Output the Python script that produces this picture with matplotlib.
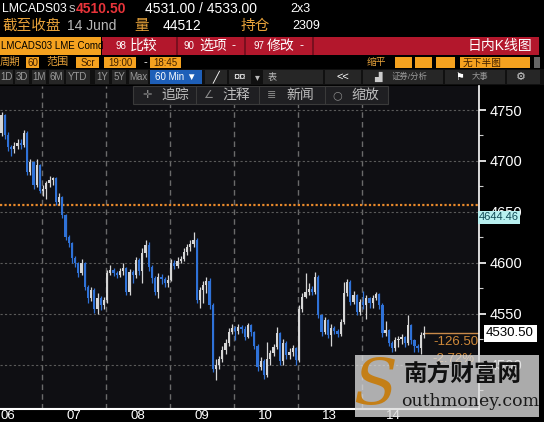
import matplotlib
matplotlib.use('Agg')
import matplotlib.pyplot as plt
import numpy as np
from matplotlib.patches import Rectangle

plt.rcParams['font.family'] = ['Liberation Sans', 'Noto Sans CJK SC', 'DejaVu Sans']

# Datos: velas de 60 minutos (cierre, máximo, mínimo), apertura = cierre anterior
first_open = 4727.0
closes = [
    # 06
    4745, 4725, 4714, 4712, 4715, 4718, 4716, 4727, 4689, 4699, 4676, 4696, 4670,
    # 07
    4672, 4678, 4681, 4683, 4660, 4665, 4647, 4625, 4619, 4605, 4600, 4590, 4600, 4576, 4565, 4573, 4555, 4565, 4558, 4563,
    # 08
    4590, 4593, 4590, 4588, 4592, 4595, 4571, 4591, 4588, 4603, 4592, 4610, 4617, 4596, 4585, 4571, 4586, 4584, 4580, 4583,
    # 09
    4600, 4597, 4602, 4604, 4611, 4615, 4618, 4622, 4563, 4573, 4578, 4582, 4558, 4496, 4500, 4505, 4514, 4521, 4532, 4536,
    # 10
    4533, 4537, 4535, 4527, 4539, 4532, 4518, 4498, 4503, 4490, 4505, 4511, 4517, 4531, 4503, 4521, 4509, 4512, 4516, 4504,
    # 13
    4555, 4566, 4571, 4574, 4571, 4586, 4549, 4532, 4544, 4529, 4536, 4533, 4530, 4542, 4570, 4581, 4561, 4568, 4552, 4561,
    # 14
    4558, 4565, 4560, 4565, 4569, 4558, 4531, 4534, 4521, 4516, 4524, 4525, 4527, 4521, 4539, 4524, 4518, 4516, 4529, 4530.5,
]
highs = [
    4748, 4746, 4728, 4716, 4719, 4722, 4722, 4730, 4729, 4702, 4700, 4702, 4697,
    4676, 4680, 4685, 4684, 4684, 4668, 4666, 4648, 4627, 4620, 4607, 4601, 4604, 4601, 4578, 4576, 4575, 4570, 4567, 4566,
    4593, 4598, 4595, 4592, 4595, 4600, 4596, 4594, 4593, 4606, 4605, 4614, 4622, 4620, 4598, 4587, 4590, 4589, 4586, 4588,
    4604, 4603, 4606, 4607, 4614, 4618, 4622, 4630, 4624, 4576, 4582, 4586, 4585, 4560, 4505, 4508, 4518, 4525, 4536, 4540,
    4538, 4540, 4539, 4538, 4541, 4540, 4533, 4520, 4507, 4505, 4522, 4514, 4520, 4537, 4532, 4525, 4523, 4516, 4519, 4517,
    4558, 4570, 4590, 4580, 4577, 4591, 4588, 4550, 4547, 4545, 4540, 4538, 4535, 4545, 4581, 4584, 4583, 4572, 4569, 4564,
    4572, 4568, 4566, 4568, 4571, 4570, 4560, 4543, 4535, 4523, 4527, 4528, 4530, 4528, 4549, 4540, 4525, 4520, 4532, 4538,
]
lows = [
    4724, 4722, 4710, 4705, 4708, 4712, 4712, 4714, 4686, 4686, 4672, 4674, 4668,
    4666, 4663, 4674, 4676, 4657, 4657, 4644, 4622, 4615, 4600, 4596, 4586, 4588, 4573, 4560, 4562, 4551, 4550, 4554, 4555,
    4560, 4588, 4587, 4585, 4586, 4588, 4568, 4568, 4580, 4585, 4588, 4580, 4606, 4592, 4580, 4568, 4565, 4579, 4576, 4576,
    4582, 4594, 4595, 4600, 4602, 4608, 4612, 4615, 4560, 4556, 4560, 4570, 4555, 4493, 4485, 4496, 4502, 4510, 4518, 4530,
    4524, 4530, 4531, 4524, 4526, 4528, 4515, 4494, 4495, 4486, 4488, 4500, 4508, 4515, 4500, 4500, 4505, 4505, 4508, 4500,
    4502, 4552, 4565, 4568, 4568, 4569, 4546, 4528, 4530, 4526, 4518, 4530, 4527, 4528, 4540, 4567, 4558, 4559, 4549, 4549,
    4555, 4545, 4556, 4556, 4563, 4555, 4527, 4528, 4518, 4512, 4513, 4517, 4520, 4517, 4519, 4520, 4512, 4512, 4510, 4526,
]
day_labels = ['06', '07', '08', '09', '10', '13', '14']
bars_per_day = [13, 20, 20, 20, 20, 20, 20]
ref_level = 4657.0      # línea punteada naranja (cierre de referencia)
ma_value = 4644.46      # etiqueta cian
last_price = 4530.50
y_ticks = [4500, 4550, 4600, 4650, 4700, 4750]

W, H = 544, 422
fig = plt.figure(figsize=(W / 100, H / 100), dpi=100, facecolor='black')

def fx(x):
    return x / W

def fy(y):
    return 1 - y / H

def caja(x, y, w, h, color, **kw):
    fig.add_artist(Rectangle((fx(x), fy(y + h)), w / W, h / H, transform=fig.transFigure,
                             facecolor=color, edgecolor=kw.pop('ec', 'none'), **kw))

def texto(x, y, s, color, size, **kw):
    kw.setdefault('va', 'center')
    fig.text(fx(x), fy(y), s, color=color, fontsize=size, **kw)

# ---- Gráfico principal ----
ax = fig.add_axes([0, fy(409), fx(479), (409 - 86) / H])
ax.set_facecolor('#0f0f13')

c = np.array(closes, dtype=float)
o = np.array([first_open] + closes[:-1], dtype=float)
hi = np.maximum(np.array(highs, dtype=float), np.maximum(o, c))
lo = np.minimum(np.array(lows, dtype=float), np.minimum(o, c))
idx = np.arange(len(c))
sube = c >= o
azul = '#2f72d8'
blanco = '#d6d6d6'
colores = np.where(sube, blanco, azul)

ax.vlines(idx, lo, hi, colors=colores, lw=0.9, zorder=3)
alto = np.maximum(np.abs(c - o), 1.0)
ax.bar(idx, alto, bottom=np.minimum(o, c), width=0.72, color=colores, zorder=4, linewidth=0)

# Cuadrícula
limites = np.cumsum(bars_per_day)[:-1] - 0.5
for b in limites:
    ax.axvline(b, color='#6a6a6a', lw=1.0, ls=(0, (4, 3)), zorder=1)
for t in y_ticks:
    ax.axhline(t, color='#5a5a5a', lw=0.8, ls=(0, (2, 2)), zorder=1)

ax.axhline(ref_level, color='#e8892b', lw=1.6, ls=(0, (1, 1)), zorder=2)
ax.plot([idx[-1], 149.2], [last_price, last_price], color='#c98a4a', lw=1.0, zorder=2)

ax.set_xlim(-0.47, 149.2)
ax.set_ylim(4456.3, 4773.6)

ax.yaxis.tick_right()
ax.set_yticks(y_ticks)
ax.set_yticks(np.arange(4475, 4775, 50), minor=True)
ax.tick_params(axis='y', which='major', colors='white', length=5, width=1.2, labelsize=10.5, pad=3)
ax.tick_params(axis='y', which='minor', colors='#cccccc', length=3, width=0.8)
ax.set_xticks([])
for s in ['top', 'left']:
    ax.spines[s].set_visible(False)
ax.spines['right'].set_color('white')
ax.spines['bottom'].set_color('white')
ax.spines['right'].set_linewidth(1.2)
ax.spines['bottom'].set_linewidth(1.5)

# Etiquetas de días
inicio = 0
for lab, n in zip(day_labels, bars_per_day):
    centro = inicio + n / 2 - 0.5 if lab != '06' else 2
    texto((centro + 0.47) * 479 / 149.67, 416, lab, 'white', 9.5, ha='center')
    inicio += n

# Etiquetas del eje derecho
ax.text(1.0, ma_value, f'{ma_value:.2f}', transform=ax.get_yaxis_transform(), ha='left', va='center',
        fontsize=8, color='#0f4a55', bbox=dict(boxstyle='square,pad=0.1', fc='#b8f0f0', ec='none'),
        clip_on=False, zorder=10)
ax.text(1.015, last_price, f'{last_price:.2f}', transform=ax.get_yaxis_transform(), ha='left', va='center',
        fontsize=9.5, color='black', bbox=dict(boxstyle='square,pad=0.2', fc='white', ec='none'),
        clip_on=False, zorder=10)
ax.text(0.998, last_price - 8.5, f'{last_price - ref_level:.2f}', transform=ax.get_yaxis_transform(),
        ha='right', va='center', fontsize=9.5, color='#d08a3a', zorder=10)
ax.text(0.99, last_price - 25, f'{(last_price - ref_level) / ref_level * 100:.2f}%',
        transform=ax.get_yaxis_transform(), ha='right', va='center', fontsize=9.5, color='#d08a3a', zorder=10)

# ---- Cabecera ----
texto(2, 9, 'LMCADS03', 'white', 8.8)
texto(69, 9, 's', '#c0c0c0', 9.5)
texto(76, 9, '4510.50', '#e8343a', 10, fontweight='bold')
texto(145, 9, '4531.00 / 4533.00', 'white', 10)
texto(290, 9, '2x3', 'white', 9)

texto(2, 26, '截至收盘', '#e7a23a', 10.5)
texto(67, 26, '14 Jund', '#b8b8b8', 10)
texto(134, 26, '量', '#e7a23a', 10.5)
texto(163, 26, '44512', 'white', 10)
texto(241, 26, '持仓', '#e7a23a', 10.5)
texto(292, 26, '2309', 'white', 9)

caja(0, 37, 101, 18, '#f5a21f')
texto(1, 46, 'LMCADS03 LME Comd', 'black', 7)
caja(102, 37, 437, 18, '#b3172c')
for xd in [176, 244, 312]:
    caja(xd, 37, 1.5, 18, '#7a0f1e')
texto(115, 46, '98', 'white', 7)
texto(130, 46, '比较', 'white', 10)
texto(184, 46, '90', 'white', 7)
texto(199, 46, '选项', 'white', 10)
texto(232, 46, '-', 'white', 9)
texto(253, 46, '97', 'white', 7)
texto(267, 46, '修改', 'white', 10)
texto(300, 46, '-', 'white', 9)
texto(532, 46, '日内K线图', 'white', 10, ha='right')

texto(0, 62, '周期', '#e7a23a', 7.5)
caja(26, 57, 13, 11, '#f5a21f')
texto(32.5, 62.5, '60', '#402000', 7, ha='center')
texto(46, 62, '范围', '#e7a23a', 8)
caja(76, 57, 23, 11, '#f5a21f')
texto(87.5, 62.5, 'Scr', '#402000', 7, ha='center')
caja(104, 57, 32, 11, '#f5a21f')
texto(120, 62.5, '19:00', '#402000', 7, ha='center')
texto(143, 62.5, '-', 'white', 8)
caja(150, 57, 31, 11, '#f5a21f')
texto(165.5, 62.5, '18:45', '#402000', 7, ha='center')
texto(367, 62, '缩平', '#e7a23a', 7)
for xb, wb in [(395, 17), (415, 17), (436, 19), (460, 70)]:
    caja(xb, 57, wb, 11, '#f5a21f')
texto(463, 62.5, '无下半图', '#402000', 7)
caja(534, 57, 6, 11, '#666666')

caja(0, 69, 544, 16, '#101010')
botones = [('1D', 0, 13), ('3D', 15, 14), ('1M', 32, 14), ('6M', 49, 15), ('YTD', 66, 24),
           ('1Y', 95, 14), ('5Y', 112, 14), ('Max', 129, 19)]
for lab, xb, wb in botones:
    caja(xb, 70, wb, 14, '#262626')
    texto(xb + wb / 2, 77, lab, '#9a9a9a', 7, ha='center')
caja(150, 70, 52, 14, '#1e5fb8')
texto(176, 77, '60 Min ▼', 'white', 7, ha='center')
caja(205, 70, 22, 14, '#262626')
texto(216, 77, '╱', 'white', 8, ha='center', family=['DejaVu Sans'])
caja(229, 70, 22, 14, '#262626')
texto(240, 77, '¤¤', 'white', 8, ha='center')
texto(257, 77, '▾', '#bbbbbb', 7, ha='center', family=['DejaVu Sans'])
caja(263, 70, 60, 14, '#262626')
texto(272, 77, '表', '#bbbbbb', 6.5, ha='center')
caja(325, 70, 36, 14, '#262626')
texto(343, 77, '<<', 'white', 8, ha='center')
caja(363, 70, 80, 14, '#262626')
texto(378, 77, '▟', '#cccccc', 7, ha='center', family=['DejaVu Sans'])
texto(392, 77, '证券/分析', '#9a9a9a', 6)
caja(445, 70, 60, 14, '#262626')
texto(460, 77, '⚑', 'white', 7, ha='center', family=['DejaVu Sans'])
texto(472, 77, '大事', '#9a9a9a', 6)
caja(507, 70, 33, 14, '#262626')
texto(521, 77, '⚙', '#cccccc', 8, ha='center', family=['DejaVu Sans'])

# Barra de herramientas flotante
caja(133, 86, 255, 18, '#1f1f22', ec='#3a3a3a', lw=0.8, zorder=20)
for xs in [196, 259, 325]:
    caja(xs, 86, 1, 18, '#3a3a3a', zorder=21)
herr = [(147, '✛', '追踪'), (208, '∠', '注释'), (272, '≣', '新闻'), (337, '○', '缩放')]
for xh, ic, lab in herr:
    texto(xh, 95, ic, '#8a8a8a', 8, ha='center', zorder=22, family=['DejaVu Sans'])
    texto(xh + 14, 95, lab, '#bdbdbd', 10, zorder=22)

# Marca de agua
caja(355, 355, 184, 62, '#dcdcdc', alpha=0.78, zorder=30)
texto(375, 388, 'S', '#c47f17', 46, ha='center', fontstyle='italic', family=['DejaVu Serif'], zorder=31)
texto(463, 374, '南方财富网', '#111111', 17, ha='center', fontweight='bold', zorder=31)
texto(470, 401, 'outhmoney.com', '#1a1a1a', 12.5, ha='center', family=['DejaVu Serif'], zorder=31)

fig.savefig('out.png', dpi=100, facecolor='black')
